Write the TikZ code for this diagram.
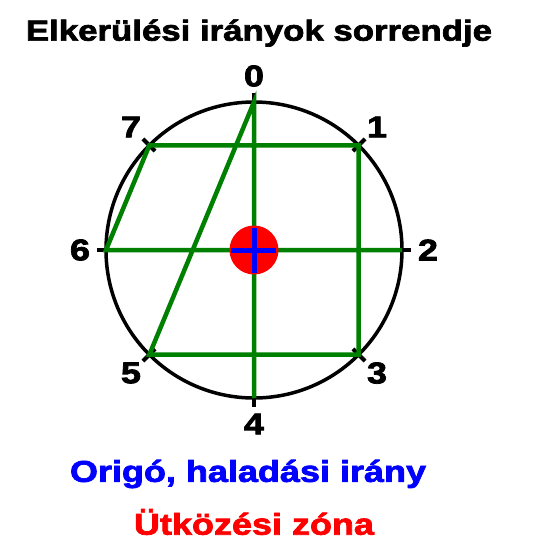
\documentclass[tikz,border=0pt]{standalone}
\usepackage{fontspec}
\setmainfont{Liberation Sans}
\newfontfamily\heavyfont{Liberation Sans Bold}[FakeBold=2.5, FakeStretch=1.2]
\usepackage{tikz}
\usetikzlibrary{calc}
\definecolor{pathgreen}{RGB}{0,128,0}
\tikzset{
    numlabel/.style={font=\fontsize{30}{32}\heavyfont},
    pathline/.style={pathgreen, line width=4.5pt},
}

\begin{document}
\begin{tikzpicture}[x=1pt,y=-1pt]
        \useasboundingbox (0,0) rectangle (550,550);
        \coordinate (c) at (254,250);

        \node[font=\fontsize{29}{31}\heavyfont] (title) at (259,33) {Elkerülési irányok sorrendje};

        % irányok a kör mentén
        \foreach \i in {0,...,7} {
            \coordinate (p\i) at ($(c)+({45*\i-90}:148)$);
            \draw[line width=4pt] ($(c)+({45*\i-90}:140)$) -- ($(c)+({45*\i-90}:157)$);
            \node[numlabel] (n\i) at ($(c)+({45*\i-90}:174)$) {\i};
	    }
        \draw[line width=3.5pt] (c) circle (148);

        \draw[pathline] (p4) -- (p0) -- (p5) -- (p3) -- (p1) -- (p7) -- (p6) -- (p2);

        \fill[red] (c) circle (24.5);
        \draw[blue, line width=5pt] ($(c)+(-23,0)$) -- ($(c)+(22,0)$);
        \draw[blue, line width=5pt] ($(c)+(0,-22)$) -- ($(c)+(0,23)$);

        \node[font=\fontsize{30}{32}\heavyfont, text=blue] (origo) at (248,474) {Origó, haladási irány};
        \node[font=\fontsize{30}{32}\heavyfont, text=red] (zona) at (254,522) {Ütközési zóna};
    \end{tikzpicture}
\end{document}
